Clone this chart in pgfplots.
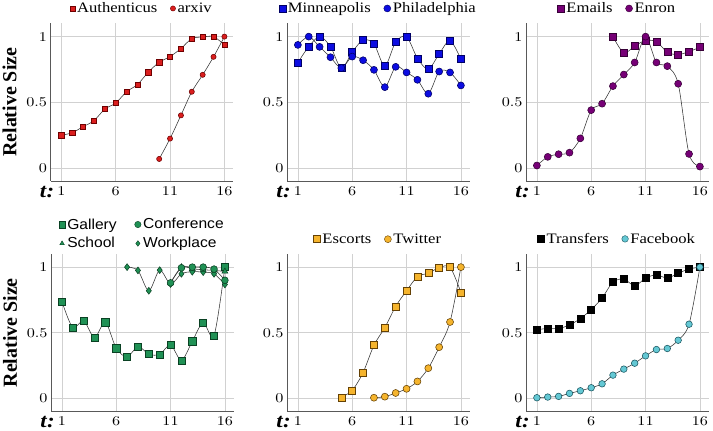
\documentclass[border=0pt]{standalone}
\usepackage{pgfplots}
\pgfplotsset{compat=1.18}
\usepackage{fontspec}
\setmainfont{Liberation Serif}[FakeStretch=1.15]
\setsansfont{Liberation Sans}[FakeStretch=1.08]
\newfontfamily\labfont{Liberation Serif}
\newfontfamily\tickfont{lmroman10-regular.otf}[FakeStretch=1.2]

\definecolor{cRed}{RGB}{218,30,30}
\definecolor{cRedD}{RGB}{110,0,0}
\definecolor{cBlue}{RGB}{12,12,225}
\definecolor{cBlueD}{RGB}{0,0,100}
\definecolor{cPur}{RGB}{118,0,118}
\definecolor{cPurD}{RGB}{55,0,55}
\definecolor{cGrn}{RGB}{32,145,85}
\definecolor{cGrnD}{RGB}{10,65,35}
\definecolor{cOra}{RGB}{245,180,45}
\definecolor{cOraD}{RGB}{100,65,5}
\definecolor{cBlk}{RGB}{0,0,0}
\definecolor{cCya}{RGB}{100,200,212}
\definecolor{cCyaD}{RGB}{25,85,95}

\pgfplotsset{
  panel/.style={
    scale only axis, width=182.6bp, height=157.5bp,
    xmin=0, xmax=16.8, ymin=-0.1, ymax=1.1,
    xtick={1,6,11,16}, ytick={0,0.5,1},
    axis lines*=left,
    axis line style={black!65, line width=0.6pt},
    grid=major, grid style={black!18, line width=0.6pt},
    major tick length=0pt,
    /pgf/number format/assume math mode=true,
    tick label style={font=\tickfont\fontsize{13.5}{14}\selectfont},
    xticklabel style={yshift=-2bp},
    legend style={draw=none, fill=none, at={(0.5,1.045)}, anchor=south,
      font=\fontsize{14.5}{15}\selectfont, inner sep=0pt,
      /tikz/every even column/.append style={column sep=11bp}},
    legend columns=2,
    legend cell align=left,
    after end axis/.code={\node[anchor=base east, inner sep=0pt,
      font=\fontsize{20}{20}\selectfont\bfseries\itshape]
      at ([xshift=4bp,yshift=-16.3bp]rel axis cs:0,0) {t\kern0.5pt:};},
  },
  ylab/.style={ylabel={Relative Size},
    ylabel style={font=\labfont\fontsize{20}{20}\selectfont\bfseries,
      at={(axis description cs:-0.224,0.5)}, anchor=center}},
  ser/.style={smooth, black!80, line width=0.55pt, forget plot,
    mark options={solid, line width=0.5pt}},
}

\begin{document}
\begin{tikzpicture}
\useasboundingbox (0,0) rectangle (713bp,431bp);

% ---------- Panel 1
\begin{axis}[panel, ylab, at={(50.5bp,250bp)}, anchor=south west]
\addplot[ser, mark=square*, mark size=2.6bp, mark options={fill=cRed, draw=cRedD}] coordinates {
(1,0.248)(2,0.268)(3,0.314)(4,0.36)(5,0.448)(6,0.494)(7,0.58)(8,0.635)
(9,0.729)(10,0.805)(11,0.848)(12,0.909)(13,0.985)(14,0.997)(15,1.0)(16,0.937)};
\addplot[ser, mark=*, mark size=2.6bp, mark options={fill=cRed, draw=cRedD}] coordinates {
(10,0.068)(11,0.223)(12,0.40)(13,0.58)(14,0.709)(15,0.846)(16,1.0)};
\addlegendimage{only marks, mark=square*, mark size=2.6bp, mark options={fill=cRed, draw=cRedD}}
\addlegendentry{Authenticus}
\addlegendimage{only marks, mark=*, mark size=2.6bp, mark options={fill=cRed, draw=cRedD}}
\addlegendentry{arxiv}
\end{axis}

% ---------- Panel 2
\begin{axis}[panel, at={(287bp,250bp)}, anchor=south west]
\addplot[ser, mark=square*, mark size=3.5bp, mark options={fill=cBlue, draw=cBlueD}] coordinates {
(1,0.802)(2,0.924)(3,1.0)(4,0.924)(5,0.76)(6,0.881)(7,0.975)(8,0.944)
(9,0.777)(10,0.959)(11,1.0)(12,0.835)(13,0.752)(14,0.868)(15,0.97)(16,0.828)};
\addplot[ser, mark=*, mark size=3.5bp, mark options={fill=cBlue, draw=cBlueD}] coordinates {
(1,0.937)(2,1.0)(3,0.922)(4,0.843)(5,0.76)(6,0.848)(7,0.82)(8,0.747)
(9,0.615)(10,0.77)(11,0.727)(12,0.671)(13,0.565)(14,0.734)(15,0.727)(16,0.628)};
\addlegendimage{only marks, mark=square*, mark size=3.5bp, mark options={fill=cBlue, draw=cBlueD}}
\addlegendentry{Minneapolis}
\addlegendimage{only marks, mark=*, mark size=3.5bp, mark options={fill=cBlue, draw=cBlueD}}
\addlegendentry{Philadelphia}
\end{axis}

% ---------- Panel 3
\begin{axis}[panel, at={(526bp,250bp)}, anchor=south west]
\addplot[ser, mark=square*, mark size=3.5bp, mark options={fill=cPur, draw=cPurD}] coordinates {
(8,1.0)(9,0.876)(10,0.929)(11,0.97)(12,0.962)(13,0.881)(14,0.863)(15,0.886)(16,0.919)};
\addplot[ser, mark=*, mark size=3.5bp, mark options={fill=cPur, draw=cPurD}] coordinates {
(1,0.018)(2,0.084)(3,0.104)(4,0.116)(5,0.225)(6,0.44)(7,0.489)(8,0.623)
(9,0.711)(10,0.803)(11,1.0)(12,0.803)(13,0.775)(14,0.641)(15,0.106)(16,0.01)};
\addlegendimage{only marks, mark=square*, mark size=3.5bp, mark options={fill=cPur, draw=cPurD}}
\addlegendentry{Emails}
\addlegendimage{only marks, mark=*, mark size=3.5bp, mark options={fill=cPur, draw=cPurD}}
\addlegendentry{Enron}
\end{axis}

% ---------- Panel 4
\begin{axis}[panel, ylab, at={(51bp,19.5bp)}, anchor=south west,
  legend style={at={(0.5,1.015)}, font=\sffamily\fontsize{14.5}{15}\selectfont,
    row sep=3bp,
    /tikz/every even column/.append style={column sep=16bp}}]
\addplot[ser, mark=square*, mark size=3.6bp, mark options={fill=cGrn, draw=cGrnD}] coordinates {
(1,0.739)(2,0.539)(3,0.592)(4,0.463)(5,0.58)(6,0.382)(7,0.316)(8,0.395)
(9,0.337)(10,0.334)(11,0.408)(12,0.289)(13,0.435)(14,0.577)(15,0.478)(16,1.0)};
\addplot[ser, mark=diamond*, mark size=3.4bp, mark options={fill=cGrn, draw=cGrnD}] coordinates {
(7,1.0)(8,0.975)(9,0.82)(10,0.977)(11,0.871)(12,0.949)(13,0.965)(14,0.962)(15,0.949)(16,0.868)};
\addplot[ser, mark=triangle*, mark size=3.4bp, mark options={fill=cGrn, draw=cGrnD}] coordinates {
(11,0.88)(12,1.0)(13,0.987)(14,0.98)(15,0.975)(16,0.967)};
\addplot[ser, mark=*, mark size=3.4bp, mark options={fill=cGrn, draw=cGrnD}] coordinates {
(11,0.88)(12,0.995)(13,1.0)(14,1.0)(15,0.985)(16,0.90)};
\addlegendimage{only marks, mark=square*, mark size=3.2bp, mark options={fill=cGrn, draw=cGrnD}}
\addlegendentry{Gallery}
\addlegendimage{only marks, mark=*, mark size=3.2bp, mark options={fill=cGrn, draw=cGrnD}}
\addlegendentry{Conference}
\addlegendimage{only marks, mark=triangle*, mark size=2.6bp, mark options={fill=cGrn, draw=cGrnD}}
\addlegendentry{School}
\addlegendimage{only marks, mark=diamond*, mark size=2.8bp, mark options={fill=cGrn, draw=cGrnD}}
\addlegendentry{Workplace}
\end{axis}

% ---------- Panel 5
\begin{axis}[panel, at={(287bp,19.5bp)}, anchor=south west]
\addplot[ser, mark=square*, mark size=3.5bp, mark options={fill=cOra, draw=cOraD}] coordinates {
(5,0.008)(6,0.061)(7,0.197)(8,0.405)(9,0.539)(10,0.701)(11,0.82)(12,0.927)
(13,0.954)(14,0.995)(15,1.0)(16,0.808)};
\addplot[ser, mark=*, mark size=3.5bp, mark options={fill=cOra, draw=cOraD}] coordinates {
(8,0.005)(9,0.013)(10,0.041)(11,0.073)(12,0.129)(13,0.23)(14,0.39)(15,0.582)(16,1.0)};
\addlegendimage{only marks, mark=square*, mark size=3.5bp, mark options={fill=cOra, draw=cOraD}}
\addlegendentry{Escorts}
\addlegendimage{only marks, mark=*, mark size=3.5bp, mark options={fill=cOra, draw=cOraD}}
\addlegendentry{Twitter}
\end{axis}

% ---------- Panel 6
\begin{axis}[panel, at={(526bp,19.5bp)}, anchor=south west]
\addplot[ser, mark=square*, mark size=3.5bp, mark options={fill=cBlk, draw=cBlk}] coordinates {
(1,0.524)(2,0.532)(3,0.532)(4,0.559)(5,0.608)(6,0.676)(7,0.765)(8,0.886)
(9,0.909)(10,0.858)(11,0.916)(12,0.942)(13,0.916)(14,0.954)(15,0.985)(16,1.0)};
\addplot[ser, mark=*, mark size=3.3bp, mark options={fill=cCya, draw=cCyaD}] coordinates {
(1,0.005)(2,0.01)(3,0.015)(4,0.038)(5,0.058)(6,0.081)(7,0.111)(8,0.177)
(9,0.223)(10,0.268)(11,0.324)(12,0.372)(13,0.38)(14,0.443)(15,0.565)(16,1.0)};
\addlegendimage{only marks, mark=square*, mark size=3.5bp, mark options={fill=cBlk, draw=cBlk}}
\addlegendentry{Transfers}
\addlegendimage{only marks, mark=*, mark size=3.3bp, mark options={fill=cCya, draw=cCyaD}}
\addlegendentry{Facebook}
\end{axis}
\end{tikzpicture}
\end{document}
